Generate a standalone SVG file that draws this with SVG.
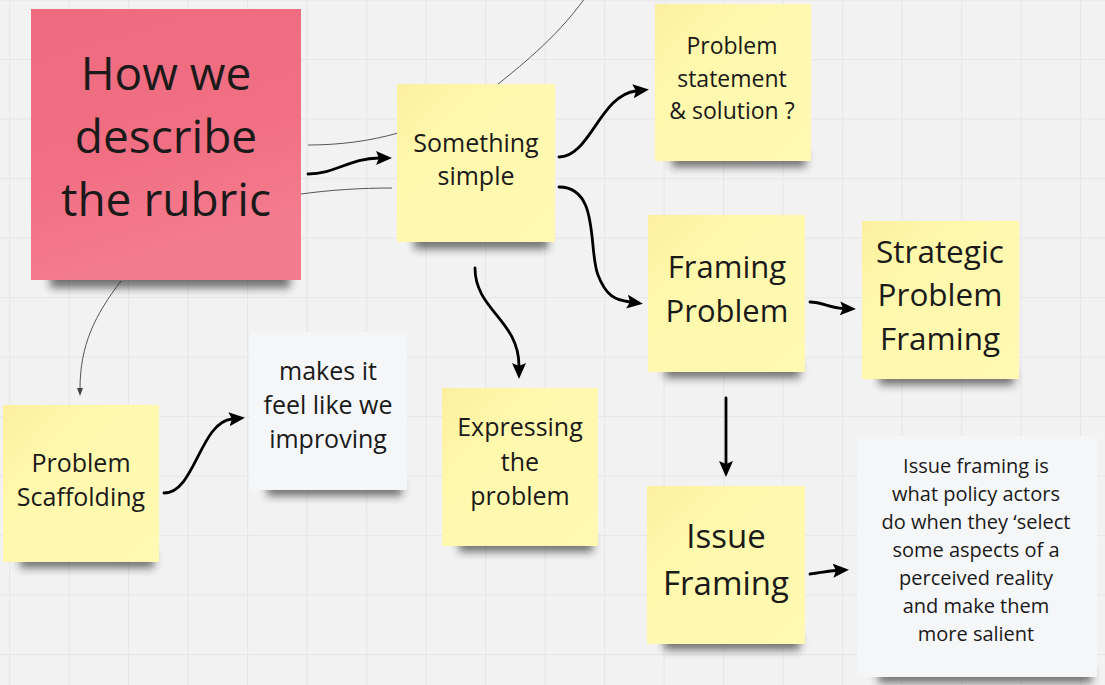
<svg xmlns="http://www.w3.org/2000/svg" width="1105" height="685" viewBox="0 0 1105 685">
<style>
.t{font-family:"Open Sans","Liberation Sans",sans-serif;fill:#1a1a1a;text-anchor:middle}
.thin{fill:none;stroke:#555;stroke-width:1}
.thick{fill:none;stroke:#000;stroke-width:2.8;stroke-linecap:round}
.sh{fill:#1e1e1e;opacity:.6;filter:url(#blur)}
</style>
<defs>
<pattern id="grid" width="59.5" height="59.5" patternUnits="userSpaceOnUse" x="9" y="-0.5">
<rect width="59.5" height="1.2" fill="#e7e7e7"/><rect width="1.2" height="59.5" fill="#e7e7e7"/>
</pattern>
<filter id="blur" x="-20%" y="-150%" width="140%" height="400%"><feGaussianBlur stdDeviation="4.5"/></filter>
<linearGradient id="yel" x1="0" y1="0" x2="1" y2="1">
<stop offset="0" stop-color="#fcf09f"/><stop offset=".35" stop-color="#fff8ad"/><stop offset="1" stop-color="#fff9b1"/>
</linearGradient>
<linearGradient id="pink" x1="0" y1="0" x2="0.3" y2="1">
<stop offset="0" stop-color="#ee6b7f"/><stop offset=".6" stop-color="#f16f83"/><stop offset="1" stop-color="#f47c8e"/>
</linearGradient>
<marker id="ah" viewBox="0 0 16 14" markerWidth="16" markerHeight="14" markerUnits="userSpaceOnUse" refX="3" refY="7" orient="auto">
<path d="M0,0 L16,7 L0,14 L3,7 z" fill="#000"/>
</marker>
<marker id="ahs" viewBox="0 0 8 6" markerWidth="8" markerHeight="6" markerUnits="userSpaceOnUse" refX="1" refY="3" orient="auto">
<path d="M0,0 L8,3 L0,6 z" fill="#444"/>
</marker>
</defs>
<rect width="1105" height="685" fill="#f2f2f2"/>
<rect width="1105" height="685" fill="url(#grid)"/>

<g id="connectors">
<path class="thin" d="M497,85 C515,70 555,40 585,-2"/>
<path class="thin" d="M308,145 C340,145 370,141 398,133"/>
<path class="thin" d="M301,194 C330,190 360,188 392,188"/>
<path class="thin" d="M121,281 C95,315 80,345 80,389" marker-end="url(#ahs)"/>
<path class="thick" d="M308,174 C335,174 350,158 379,158" marker-end="url(#ah)"/>
<path class="thick" d="M559,157 C590,157 600,95 636,91" marker-end="url(#ah)"/>
<path class="thick" d="M559,187 C600,187 588,250 598,275 C606,296 615,300 630,302" marker-end="url(#ah)"/>
<path class="thick" d="M810,302 C822,302 830,308 843,308.5" marker-end="url(#ah)"/>
<path class="thick" d="M475,268 C475,310 519,320 519,366" marker-end="url(#ah)"/>
<path class="thick" d="M164,493 C195,493 200,422 232,419" marker-end="url(#ah)"/>
<path class="thick" d="M726,398 L726,464" marker-end="url(#ah)"/>
<path class="thick" d="M810,574 C820,573 828,571 836,570.5" marker-end="url(#ah)"/>
</g>

<g id="how-we-describe">
<rect class="sh" x="50" y="270" width="240" height="18"/>
<rect x="31" y="9" width="270" height="271" fill="url(#pink)"/>
<text class="t" font-size="46" x="166" y="90">How we</text>
<text class="t" font-size="46" x="166" y="153">describe</text>
<text class="t" font-size="46" x="166" y="216">the rubric</text>
</g>

<g id="something-simple">
<rect class="sh" x="414" y="233" width="134" height="16"/>
<rect x="397" y="84" width="158" height="158" fill="url(#yel)"/>
<text class="t" font-size="25" x="476" y="152">Something</text>
<text class="t" font-size="25" x="476" y="185">simple</text>
</g>

<g id="problem-statement">
<rect class="sh" x="672" y="151" width="134" height="16"/>
<rect x="655" y="4" width="156" height="157" fill="url(#yel)"/>
<text class="t" font-size="23" x="732" y="54">Problem</text>
<text class="t" font-size="23" x="732" y="87">statement</text>
<text class="t" font-size="23" x="732" y="119">&amp; solution ?</text>
</g>

<g id="framing-problem">
<rect class="sh" x="665" y="362" width="135" height="16"/>
<rect x="648" y="215" width="157" height="157" fill="url(#yel)"/>
<text class="t" font-size="31" x="727" y="278">Framing</text>
<text class="t" font-size="31" x="727" y="322">Problem</text>
</g>

<g id="strategic-problem-framing">
<rect class="sh" x="879" y="369" width="135" height="16"/>
<rect x="862" y="221" width="157" height="158" fill="url(#yel)"/>
<text class="t" font-size="31.5" x="940" y="263">Strategic</text>
<text class="t" font-size="31.5" x="940" y="306">Problem</text>
<text class="t" font-size="31.5" x="940" y="350">Framing</text>
</g>

<g id="problem-scaffolding">
<rect class="sh" x="20" y="552" width="134" height="16"/>
<rect x="3" y="405" width="156" height="157" fill="url(#yel)"/>
<text class="t" font-size="25" x="81" y="472">Problem</text>
<text class="t" font-size="25" x="81" y="506">Scaffolding</text>
</g>

<g id="makes-it-feel">
<rect class="sh" x="267" y="480" width="135" height="16"/>
<rect x="250" y="332" width="157" height="158" fill="#f5f6f8"/>
<text class="t" font-size="25" x="328" y="380">makes it</text>
<text class="t" font-size="25" x="328" y="414">feel like we</text>
<text class="t" font-size="25" x="328" y="448">improving</text>
</g>

<g id="expressing-the-problem">
<rect class="sh" x="459" y="536" width="134" height="16"/>
<rect x="442" y="388" width="156" height="158" fill="url(#yel)"/>
<text class="t" font-size="25" x="520" y="436">Expressing</text>
<text class="t" font-size="25" x="520" y="471">the</text>
<text class="t" font-size="25" x="520" y="505">problem</text>
</g>

<g id="issue-framing">
<rect class="sh" x="664" y="634" width="136" height="16"/>
<rect x="647" y="486" width="158" height="158" fill="url(#yel)"/>
<text class="t" font-size="33" x="726" y="548">Issue</text>
<text class="t" font-size="33" x="726" y="595">Framing</text>
</g>

<g id="issue-framing-definition">
<rect class="sh" x="878" y="667" width="214" height="16"/>
<rect x="857" y="436" width="240" height="241" fill="#f5f6f8"/>
<text class="t" font-size="20" x="976" y="473">Issue framing is</text>
<text class="t" font-size="20" x="976" y="501">what policy actors</text>
<text class="t" font-size="20" x="976" y="529">do when they ‘select</text>
<text class="t" font-size="20" x="976" y="557">some aspects of a</text>
<text class="t" font-size="20" x="976" y="585">perceived reality</text>
<text class="t" font-size="20" x="976" y="613">and make them</text>
<text class="t" font-size="20" x="976" y="641">more salient</text>
</g>
</svg>
